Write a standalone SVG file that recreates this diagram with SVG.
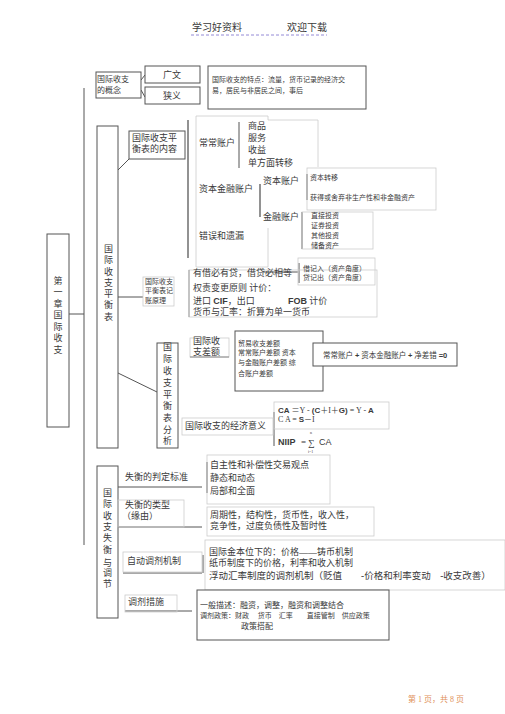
<svg xmlns="http://www.w3.org/2000/svg" width="505" height="714" viewBox="0 0 505 714">
<style>
text{font-family:"Liberation Serif","Noto Sans CJK SC",serif;fill:#3a3a3a;}
.f9{font-size:9px}
.f8{font-size:8px}
.f7{font-size:7px}
.s{font-family:"Liberation Sans","Noto Sans CJK SC",sans-serif;font-weight:bold}
.box{fill:#fff;stroke:#555;stroke-width:1}
.lbox{fill:none;stroke:#ccc;stroke-width:0.8}
.ln{stroke:#555;stroke-width:1;fill:none}
.tl{stroke:#777;stroke-width:1.6;fill:none}
</style>
<rect width="505" height="714" fill="#fff"/>
<g id="header">
<text x="192" y="31" style="font-size:10px">学习好资料</text>
<text x="287" y="31" style="font-size:10px">欢迎下载</text>
<line x1="191" y1="35" x2="327" y2="35" stroke="#7a6ccc" stroke-width="0.8" stroke-dasharray="3,2"/>
</g>
<g id="connectors">
<line class="ln" x1="84" y1="88" x2="84" y2="545"/>
<line class="ln" x1="69" y1="314" x2="84" y2="314"/>
<line class="ln" x1="141" y1="80" x2="145" y2="75"/>
<line class="ln" x1="141" y1="90" x2="145" y2="97"/>
<line class="ln" x1="118" y1="170" x2="129" y2="159"/>
<line class="tl" x1="188" y1="120" x2="188" y2="258"/>
<line class="ln" x1="239" y1="122" x2="239" y2="168"/>
<line class="tl" x1="260" y1="184" x2="260" y2="217"/>
<line class="ln" x1="307" y1="174" x2="307" y2="200"/>
<line class="ln" x1="302" y1="212" x2="302" y2="249"/>
<line class="ln" x1="118" y1="297" x2="143" y2="297"/>
<line class="ln" x1="263" y1="272" x2="298" y2="272"/>
<line class="ln" x1="299" y1="263" x2="299" y2="283"/>
<line class="ln" x1="118" y1="373" x2="157" y2="392"/>
<line class="ln" x1="274" y1="412" x2="274" y2="446"/>
<line class="ln" x1="118" y1="487" x2="202" y2="487"/>
<line class="ln" x1="118" y1="527" x2="202" y2="527"/>
<line class="ln" x1="207" y1="462" x2="207" y2="493"/>
<line class="ln" x1="123" y1="573" x2="202" y2="573"/>
<line class="ln" x1="203" y1="555" x2="203" y2="573"/>
<line class="ln" x1="125" y1="611" x2="192" y2="611"/>
</g>
<g id="chapter">
<rect class="box" x="47" y="234" width="22" height="193"/>
<text class="f9" x="58" text-anchor="middle"><tspan x="58" y="284">第</tspan><tspan x="58" y="295">一</tspan><tspan x="58" y="307">章</tspan><tspan x="58" y="318">国</tspan><tspan x="58" y="330">际</tspan><tspan x="58" y="341">收</tspan><tspan x="58" y="353">支</tspan></text>
</g>
<g id="concept">
<rect class="box" x="96" y="72" width="45" height="26"/>
<text class="f8" x="97" y="82">国际收支</text>
<text class="f8" x="97" y="93">的概念</text>
</g>
<g id="guangyi">
<rect class="box" x="145" y="66" width="55" height="17"/>
<text class="f9" x="172" y="78" text-anchor="middle">广文</text>
</g>
<g id="xiayi">
<rect class="box" x="145" y="87" width="55" height="17"/>
<text class="f9" x="172" y="99" text-anchor="middle">狭义</text>
</g>
<g id="features">
<rect class="box" x="208" y="66" width="158" height="43"/>
<text class="f7" x="212" y="82">国际收支的特点：流量，货币记录的经济交</text>
<text class="f7" x="212" y="93">易，居民与非居民之间，事后</text>
</g>
<g id="bop">
<rect class="box" x="97" y="126" width="21" height="322"/>
<text class="f9"><tspan x="104" y="252">国</tspan><tspan x="104" y="263">际</tspan><tspan x="104" y="275">收</tspan><tspan x="104" y="286">支</tspan><tspan x="104" y="297">平</tspan><tspan x="104" y="308">衡</tspan><tspan x="104" y="320">表</tspan></text>
</g>
<g id="content">
<rect class="box" x="129" y="131" width="56" height="28"/>
<text class="f9" x="132" y="141">国际收支平</text>
<text class="f9" x="132" y="152">衡表的内容</text>
</g>
<g id="accounts">
<path class="lbox" d="M196 267 V116 H268 V120 H318 V167"/>
<path class="lbox" d="M268 228 V267 H196"/>
<rect class="lbox" x="307" y="168" width="129" height="42"/>
<rect class="lbox" x="302" y="212" width="71" height="37"/>
<text class="f9" x="199" y="146">常常账户</text>
<text class="f9" x="248" y="129">商品</text>
<text class="f9" x="248" y="141">服务</text>
<text class="f9" x="248" y="153">收益</text>
<text class="f9" x="248" y="166">单方面转移</text>
<text class="f9" x="199" y="192">资本金融账户</text>
<text class="f9" x="263" y="184">资本账户</text>
<text class="f7" x="310" y="180">资本转移</text>
<text class="f7" x="310" y="200">获得或舍弃非生产性和非金融资产</text>
<text class="f9" x="263" y="220">金融账户</text>
<text class="f7" x="311" y="218">直接投资</text>
<text class="f7" x="311" y="228">证券投资</text>
<text class="f7" x="311" y="238">其他投资</text>
<text class="f7" x="311" y="248">储备资产</text>
<text class="f9" x="199" y="239">错误和遗漏</text>
</g>
<g id="principle">
<rect class="lbox" x="143" y="277" width="31" height="29"/>
<text class="f7" x="145" y="284">国际收支</text>
<text class="f7" x="145" y="293">平衡表记</text>
<text class="f7" x="145" y="303">账原理</text>
</g>
<g id="principles">
<rect class="lbox" x="189" y="270" width="188" height="47"/>
<line x1="189" y1="270" x2="189" y2="317" stroke="#aaa" stroke-width="1.2"/>
<rect class="lbox" x="298" y="258" width="77" height="27"/>
<text class="f9" x="193" y="276">有借必有贷，借贷必相等</text>
<text class="f7" x="303" y="271">借记入（资产角度）</text>
<text class="f7" x="303" y="280">贷记出（资产角度）</text>
<text class="f9" x="193" y="291">权责变更原则 计价：</text>
<text class="f9" x="193" y="304">进口 <tspan class="s">CIF</tspan>，出口</text>
<text class="f9" x="288" y="304"><tspan class="s">FOB</tspan> 计价</text>
<text class="f9" x="193" y="315">货币与汇率：折算为单一货币</text>
</g>
<g id="analysis">
<rect class="box" x="157" y="343" width="21" height="105"/>
<text class="f9"><tspan x="163" y="350">国</tspan><tspan x="163" y="362">际</tspan><tspan x="163" y="374">收</tspan><tspan x="163" y="386">支</tspan><tspan x="163" y="398">平</tspan><tspan x="163" y="409">衡</tspan><tspan x="163" y="421">表</tspan><tspan x="163" y="433">分</tspan><tspan x="163" y="444">析</tspan></text>
</g>
<g id="balance">
<rect class="lbox" x="190" y="338" width="39" height="19"/>
<line x1="190" y1="357" x2="229" y2="357" stroke="#888" stroke-width="1"/>
<text class="f9" x="193" y="344">国际收</text>
<text class="f9" x="193" y="355">支差额</text>
</g>
<g id="balances">
<rect class="box" x="235" y="331" width="88" height="60"/>
<text class="f7" x="238" y="346">贸易收支差额</text>
<text class="f7" x="238" y="355">常常账户差额 资本</text>
<text class="f7" x="238" y="365">与金融账户差额 综</text>
<text class="f7" x="238" y="376">合账户差额</text>
</g>
<g id="identity">
<rect class="box" x="313" y="343" width="144" height="23"/>
<text style="font-size:7.5px" x="323" y="358">常常账户 <tspan class="s">+</tspan> 资本金融账户 <tspan class="s">+</tspan> 净差错 <tspan class="s">=0</tspan></text>
</g>
<g id="meaning">
<rect class="lbox" x="182" y="418" width="91" height="17"/>
<text class="f9" x="185" y="429">国际收支的经济意义</text>
</g>
<g id="formulas">
<rect class="lbox" x="274" y="402" width="115" height="27"/>
<text class="f8" x="278" y="413"><tspan class="s">CA</tspan> ＝Y - <tspan class="s">(C</tspan>＋I＋<tspan class="s">G)</tspan> = Y - <tspan class="s">A</tspan></text>
<text class="f8" x="278" y="422">C A = <tspan class="s">S</tspan>－I</text>
<text x="278" y="445" class="s" style="font-size:9px">NIIP</text>
<text x="301" y="445" class="f9">=</text>
<text x="308" y="446" class="f9">∑</text>
<text x="310" y="434" style="font-size:4px">n</text>
<text x="308" y="453" style="font-size:4px">i=1</text>
<text x="319" y="445" class="s" style="font-size:9px;font-weight:normal">CA</text>
</g>
<g id="imbalance">
<rect class="box" x="97" y="466" width="21" height="152"/>
<text class="f9"><tspan x="103" y="496">国</tspan><tspan x="103" y="507">际</tspan><tspan x="103" y="519">收</tspan><tspan x="103" y="530">支</tspan><tspan x="103" y="541">失</tspan><tspan x="103" y="553">衡</tspan><tspan x="103" y="566">与</tspan><tspan x="103" y="576">调</tspan><tspan x="103" y="587">节</tspan></text>
</g>
<g id="criteria">
<text class="f9" x="125" y="480">失衡的判定标准</text>
</g>
<g id="criteria-list">
<rect class="lbox" x="207" y="455" width="123" height="49"/>
<text class="f9" x="210" y="468">自主性和补偿性交易观点</text>
<text class="f9" x="210" y="481">静态和动态</text>
<text class="f9" x="210" y="494">局部和全面</text>
</g>
<g id="types">
<rect class="lbox" x="118" y="500" width="66" height="27"/>
<text class="f9" x="125" y="508">失衡的类型</text>
<text class="f9" x="122" y="519">（缘由）</text>
</g>
<g id="types-list">
<rect class="lbox" x="207" y="507" width="167" height="29"/>
<text class="f9" x="210" y="518">周期性，结构性，货币性，收入性，</text>
<text class="f9" x="210" y="529">竞争性，过度负债性及暂时性</text>
</g>
<g id="auto">
<rect class="lbox" x="123" y="552" width="79" height="20"/>
<text class="f9" x="127" y="564">自动调剂机制</text>
</g>
<g id="auto-list">
<rect class="lbox" x="205" y="540" width="300" height="50"/>
<text class="f9" x="209" y="555">国际金本位下的：价格——铸币机制</text>
<text class="f9" x="209" y="566">纸币制度下的价格，利率和收入机制</text>
<text style="font-size:9.5px" x="209" y="579">浮动汇率制度的调剂机制（贬值　　-价格和利率变动　-收支改善）</text>
</g>
<g id="measures">
<rect class="lbox" x="125" y="595" width="52" height="17"/>
<text class="f9" x="128" y="605">调剂措施</text>
</g>
<g id="measures-list">
<rect class="box" x="197" y="590" width="192" height="50"/>
<text class="f8" x="200" y="608">一般描述：融资，调整，融资和调整结合</text>
<text class="f7" x="200" y="618">调剂政策：财政　 货币　汇率　　直接管制　供应政策</text>
<text class="f8" x="241" y="629">政策搭配</text>
</g>
<g id="footer">
<text x="408" y="702" style="font-size:8px;fill:#e0905a">第 1 页，共 8 页</text>
</g>
</svg>
